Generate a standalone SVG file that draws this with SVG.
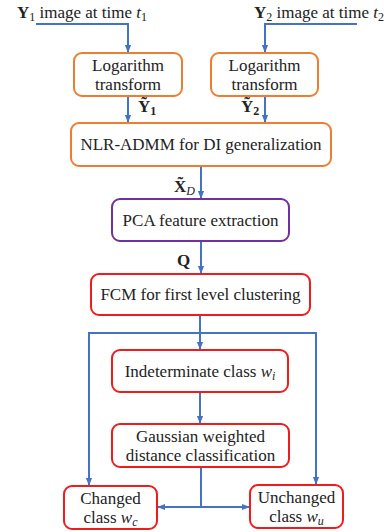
<svg xmlns="http://www.w3.org/2000/svg" width="384" height="532" viewBox="0 0 384 532">
<defs>
<style>
.t{font-family:"Liberation Serif",serif;font-size:17px;fill:#222;text-anchor:middle}
.l{font-family:"Liberation Serif",serif;font-size:17px;fill:#222}
.b{font-weight:bold}
.i{font-style:italic}
.o{fill:#fff;stroke:#ED7D31;stroke-width:2}
.p{fill:#fff;stroke:#7030A0;stroke-width:2}
.r{fill:#fff;stroke:#EE1C1C;stroke-width:2}
.c{fill:none;stroke:#4472C4;stroke-width:2}
</style>
<marker id="ah" viewBox="0 0 10 10" refX="9" refY="5" markerWidth="4" markerHeight="4" orient="auto" markerUnits="strokeWidth">
<path d="M0,1 L10,5 L0,9 z" fill="#4472C4"/>
</marker>
</defs>
<rect width="384" height="532" fill="#fff"/>
<g id="connectors">
<polyline class="c" points="36,24 128,24 128,52" marker-end="url(#ah)"/>
<polyline class="c" points="357,24 265,24 265,52" marker-end="url(#ah)"/>
<line class="c" x1="128" y1="96" x2="128" y2="122" marker-end="url(#ah)"/>
<line class="c" x1="265" y1="96" x2="265" y2="122" marker-end="url(#ah)"/>
<line class="c" x1="201" y1="166" x2="201" y2="198" marker-end="url(#ah)"/>
<line class="c" x1="201" y1="241" x2="201" y2="273" marker-end="url(#ah)"/>
<line class="c" x1="200" y1="315" x2="200" y2="349" marker-end="url(#ah)"/>
<polyline class="c" points="89,333 316,333"/>
<line class="c" x1="89" y1="332" x2="89" y2="485" marker-end="url(#ah)"/>
<line class="c" x1="316" y1="332" x2="316" y2="484" marker-end="url(#ah)"/>
<line class="c" x1="200" y1="392" x2="200" y2="423" marker-end="url(#ah)"/>
<line class="c" x1="201" y1="467" x2="201" y2="507"/>
<line class="c" x1="201" y1="507" x2="158" y2="507" marker-end="url(#ah)"/>
<line class="c" x1="201" y1="507" x2="249" y2="507" marker-end="url(#ah)"/>
<text class="l b" x="138" y="112">Ỹ<tspan font-size="12" dy="3">1</tspan></text>
<text class="l b" x="241" y="112">Ỹ<tspan font-size="12" dy="3">2</tspan></text>
<text class="l b" x="174" y="192">X̃<tspan class="i" font-weight="normal" font-size="12" dy="3">D</tspan></text>
<text class="l b" x="177" y="266">Q</text>
</g>
<g id="input1">
<text class="l" x="17" y="18"><tspan class="b">Y</tspan><tspan font-size="12" dy="3">1</tspan><tspan dy="-3"> image at time </tspan><tspan class="i">t</tspan><tspan font-size="12" dy="3">1</tspan></text>
</g>
<g id="input2">
<text class="l" x="254" y="18"><tspan class="b">Y</tspan><tspan font-size="12" dy="3">2</tspan><tspan dy="-3"> image at time </tspan><tspan class="i">t</tspan><tspan font-size="12" dy="3">2</tspan></text>
</g>
<g id="log1">
<rect class="o" x="74" y="53" width="108" height="43" rx="8"/>
<text class="t" x="128" y="71"><tspan font-family="Liberation Serif">Logarithm</tspan></text>
<text class="t" x="128" y="90"><tspan font-family="Liberation Serif">transform</tspan></text>
</g>
<g id="log2">
<rect class="o" x="211" y="53" width="107" height="43" rx="8"/>
<text class="t" x="264.5" y="71"><tspan font-family="Liberation Serif">Logarithm</tspan></text>
<text class="t" x="264.5" y="90"><tspan font-family="Liberation Serif">transform</tspan></text>
</g>
<g id="nlr">
<rect class="o" x="71" y="123" width="260" height="43" rx="8"/>
<text class="t" x="201" y="150"><tspan font-family="Liberation Serif">NLR-ADMM for DI generalization</tspan></text>
</g>
<g id="pca">
<rect class="p" x="112" y="199" width="177" height="42" rx="8"/>
<text class="t" x="200.5" y="226"><tspan font-family="Liberation Serif">PCA feature extraction</tspan></text>
</g>
<g id="fcm">
<rect class="r" x="91" y="274" width="219" height="41" rx="8"/>
<text class="t" x="200.5" y="300"><tspan font-family="Liberation Serif">FCM for first level clustering</tspan></text>
</g>
<g id="indet">
<rect class="r" x="112" y="350" width="176" height="42" rx="8"/>
<text class="t" x="200" y="377"><tspan font-family="Liberation Serif">Indeterminate class </tspan><tspan class="i">w</tspan><tspan class="i" font-size="12" dy="3">i</tspan></text>
</g>
<g id="gauss">
<rect class="r" x="112" y="424" width="177" height="43" rx="8"/>
<text class="t" x="200.5" y="442"><tspan font-family="Liberation Serif">Gaussian weighted</tspan></text>
<text class="t" x="200.5" y="461"><tspan font-family="Liberation Serif">distance classification</tspan></text>
</g>
<g id="changed">
<rect class="r" x="64" y="486" width="93" height="43" rx="8"/>
<text class="t" x="110.5" y="504"><tspan font-family="Liberation Serif">Changed</tspan></text>
<text class="t" x="110.5" y="523"><tspan font-family="Liberation Serif">class </tspan><tspan class="i">w</tspan><tspan class="i" font-size="12" dy="3">c</tspan></text>
</g>
<g id="unchanged">
<rect class="r" x="250" y="485" width="93" height="43" rx="8"/>
<text class="t" x="296.5" y="503"><tspan font-family="Liberation Serif">Unchanged</tspan></text>
<text class="t" x="296.5" y="522"><tspan font-family="Liberation Serif">class </tspan><tspan class="i">w</tspan><tspan class="i" font-size="12" dy="3">u</tspan></text>
</g>
</svg>
